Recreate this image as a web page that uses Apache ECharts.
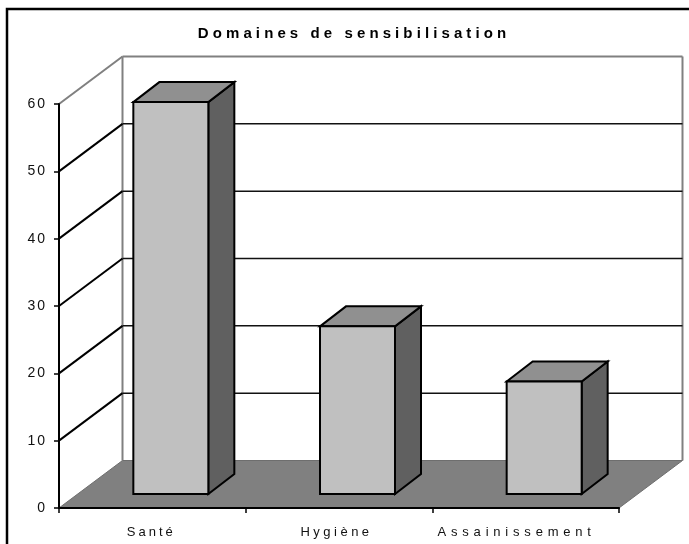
<!DOCTYPE html>
<html lang="en">
<head>
    <meta charset="UTF-8">
    <title>Domaines de sensibilisation</title>
    <script src="https://cdn.jsdelivr.net/npm/echarts@6/dist/echarts.min.js"></script>
    <style>
        html, body { margin: 0; padding: 0; background: #fff; overflow: hidden; }
    </style>
</head>
<body>
<div id="main" style="width: 689px;height:544px;"></div>
<script>
    var categories = ['Santé', 'Hygiène', 'Assainissement'];
    var values = [58.2, 24.9, 16.7];
    var yTicks = [0, 10, 20, 30, 40, 50, 60];
    var titleText = 'Domaines de sensibilisation';

    // depth of the fake 3D box, in pixels
    var wallDx = 63.5, wallDy = -47.5;
    var barNearDx = 18.5, barNearDy = -14;
    var barDx = 26, barDy = -20;
    var barWidth = 75;

    // the reference has very wide letter gaps, zrender has no letterSpacing option
    var gaps = {};
    gaps[titleText] = '4.1px';
    gaps['Santé'] = '3px';
    gaps['Hygiène'] = '3.5px';
    gaps['Assainissement'] = '4.8px';
    var drawText = CanvasRenderingContext2D.prototype.fillText;
    CanvasRenderingContext2D.prototype.fillText = function (text) {
        this.letterSpacing = gaps[text] || '2px';
        drawText.apply(this, arguments);
        this.letterSpacing = '0px';
    };

    var myChart = echarts.init(document.getElementById('main'));

    var line = function (x1, y1, x2, y2, color, width) {
        return {
            type: 'line',
            shape: { x1: x1, y1: y1, x2: x2, y2: y2 },
            style: { stroke: color, lineWidth: width }
        };
    };
    var poly = function (points, fill, stroke, width) {
        return {
            type: 'polygon',
            shape: { points: points },
            style: { fill: fill, stroke: stroke, lineWidth: width, lineJoin: 'miter' }
        };
    };

    // floor and back wall edges
    var renderWalls = function (params, api) {
        var band = api.size([1, 0])[0];
        var o = api.coord([0, 0]);
        var t = api.coord([0, 60]);
        var w = band * categories.length;
        var x = o[0] - band / 2;
        var d = wallDx, e = wallDy;
        return {
            type: 'group',
            children: [
                line(x, t[1], x + d, t[1] + e, '#808080', 2),
                line(x + d, t[1] + e, x + w + d, t[1] + e, '#808080', 2),
                line(x + d, t[1] + e, x + d, o[1] + e, '#808080', 2),
                line(x + w + d, t[1] + e, x + w + d, o[1] + e, '#808080', 2),
                poly([[x, o[1]], [x + d, o[1] + e], [x + w + d, o[1] + e], [x + w, o[1]]], '#808080', '#6e6e6e', 1)
            ]
        };
    };

    // one grid line per tick: along the side wall, then along the back wall
    var renderGrid = function (params, api) {
        var band = api.size([1, 0])[0];
        var p = api.coord([0, api.value(0)]);
        var w = band * categories.length;
        var x = p[0] - band / 2;
        return {
            type: 'group',
            children: [
                line(x, p[1], x + wallDx, p[1] + wallDy, '#000', 2),
                line(x + wallDx, p[1] + wallDy, x + w + wallDx, p[1] + wallDy, '#111', 1.5)
            ]
        };
    };

    var renderBar = function (params, api) {
        var base = api.coord([api.value(0), 0]);
        var top = api.coord([api.value(0), api.value(1)]);
        var x0 = base[0] + barNearDx - barWidth / 2;
        var x1 = x0 + barWidth;
        var y0 = base[1] + barNearDy;
        var y1 = top[1] + barNearDy;
        return {
            type: 'group',
            children: [
                poly([[x1, y1], [x1 + barDx, y1 + barDy], [x1 + barDx, y0 + barDy], [x1, y0]], '#606060', '#000', 2),
                poly([[x0, y1], [x0 + barDx, y1 + barDy], [x1 + barDx, y1 + barDy], [x1, y1]], '#909090', '#000', 2),
                poly([[x0, y0], [x0, y1], [x1, y1], [x1, y0]], '#c0c0c0', '#000', 2)
            ]
        };
    };

    // labels sit a little left of the band centres in the reference
    var labelPad = [2, 5, 18];

    var option = {
        animation: false,
        backgroundColor: '#fff',
        title: {
            text: titleText,
            left: 349,
            top: 21,
            textAlign: 'center',
            textStyle: {
                fontFamily: 'Liberation Sans',
                fontSize: 15,
                fontWeight: 'bold',
                color: '#000'
            }
        },
        graphic: [{
            type: 'rect',
            silent: true,
            z: 100,
            shape: { x: 7, y: 9, width: 700, height: 560 },
            style: { fill: 'none', stroke: '#000', lineWidth: 2.5 }
        }],
        grid: { left: 59, top: 104, width: 560, height: 404 },
        xAxis: {
            type: 'category',
            data: categories.map(function (c, i) {
                return { value: c, textStyle: { padding: [0, labelPad[i], 0, 0] } };
            }),
            axisLine: { lineStyle: { color: '#000', width: 2 } },
            axisTick: { show: true, length: 5, lineStyle: { color: '#000', width: 1.5 } },
            axisLabel: {
                fontFamily: 'Liberation Sans',
                fontSize: 13,
                color: '#111',
                margin: 18
            },
            z: 10
        },
        yAxis: {
            type: 'value',
            min: 0,
            max: 60,
            interval: 10,
            splitLine: { show: false },
            axisLine: { show: true, lineStyle: { color: '#000', width: 2 } },
            axisTick: { show: true, length: 5, lineStyle: { color: '#000', width: 1.5 } },
            axisLabel: {
                fontFamily: 'Liberation Sans',
                fontSize: 14,
                color: '#111',
                margin: 12
            },
            z: 10
        },
        series: [
            {
                type: 'custom',
                coordinateSystem: 'cartesian2d',
                renderItem: renderWalls,
                data: [[0]],
                silent: true,
                z: 1
            },
            {
                type: 'custom',
                coordinateSystem: 'cartesian2d',
                renderItem: renderGrid,
                data: yTicks.slice(1, -1).map(function (v) { return [v]; }),
                encode: { y: 0 },
                silent: true,
                z: 2
            },
            {
                type: 'custom',
                coordinateSystem: 'cartesian2d',
                renderItem: renderBar,
                data: values.map(function (v, i) { return [i, v]; }),
                encode: { x: 0, y: 1 },
                silent: true,
                z: 3
            }
        ]
    };
    myChart.setOption(option);
</script>
</body>
</html>
